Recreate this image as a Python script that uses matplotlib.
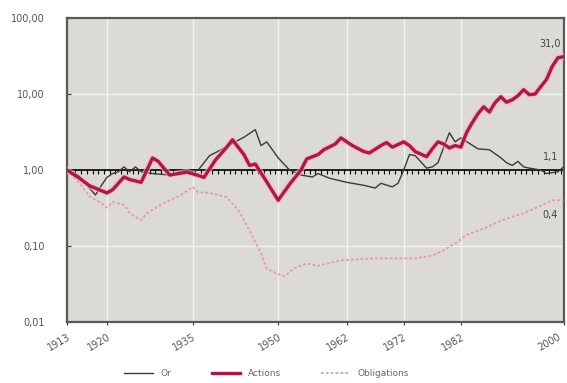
import numpy as np
import matplotlib
matplotlib.use("Agg")
from matplotlib import pyplot as plt
from matplotlib import transforms
from matplotlib.ticker import FixedLocator, NullLocator

# indices base 1 en 1913
or_years = [1913, 1915, 1918, 1919, 1920, 1921, 1922, 1923, 1924, 1925,
            1926, 1928, 1931, 1934, 1936, 1938, 1940, 1942, 1944, 1946,
            1947, 1948, 1950, 1952, 1954, 1956, 1957, 1959, 1962, 1965,
            1967, 1968, 1970, 1971, 1972, 1973, 1974, 1976, 1977, 1978,
            1979, 1980, 1981, 1982, 1985, 1987, 1989, 1990, 1991, 1992,
            1993, 1994, 1996, 1997, 1999, 2000]
or_vals = [1.0, 0.85, 0.47, 0.62, 0.8, 0.9, 0.95, 1.1, 0.95, 1.1,
           0.95, 0.9, 0.86, 0.94, 1.0, 1.55, 1.85, 2.25, 2.7, 3.4,
           2.1, 2.35, 1.45, 1.0, 0.86, 0.81, 0.9, 0.78, 0.69, 0.63,
           0.58, 0.67, 0.6, 0.67, 1.0, 1.6, 1.55, 1.06, 1.1, 1.25,
           2.0, 3.1, 2.35, 2.65, 1.9, 1.85, 1.45, 1.25, 1.15, 1.3,
           1.1, 1.06, 1.0, 0.9, 0.95, 1.1]

act_years = [1913, 1915, 1917, 1920, 1921, 1923, 1924, 1926, 1928, 1929,
             1931, 1934, 1936, 1937, 1939, 1941, 1942, 1944, 1945, 1946,
             1948, 1950, 1952, 1954, 1955, 1957, 1958, 1960, 1961, 1963,
             1965, 1966, 1968, 1969, 1970, 1972, 1973, 1974, 1976, 1977,
             1978, 1979, 1980, 1981, 1982, 1983, 1984, 1985, 1986, 1987,
             1988, 1989, 1990, 1991, 1992, 1993, 1994, 1995, 1996, 1997,
             1998, 1999, 2000]
act_vals = [1.0, 0.8, 0.62, 0.5, 0.55, 0.81, 0.75, 0.69, 1.44, 1.3,
            0.86, 0.94, 0.85, 0.8, 1.35, 2.0, 2.5, 1.6, 1.15, 1.2,
            0.7, 0.40, 0.65, 1.0, 1.4, 1.6, 1.85, 2.2, 2.65, 2.1,
            1.75, 1.68, 2.1, 2.3, 2.0, 2.35, 2.1, 1.75, 1.5, 1.9,
            2.35, 2.2, 1.95, 2.1, 2.0, 3.1, 4.2, 5.5, 6.8, 5.8,
            7.7, 9.2, 7.8, 8.4, 9.5, 11.4, 9.8, 10.0, 12.5, 15.5,
            23.0, 30.0, 31.0]

obl_years = [1913, 1915, 1917, 1919, 1920, 1921, 1923, 1924, 1926, 1927,
             1930, 1933, 1935, 1936, 1938, 1941, 1943, 1945, 1947, 1948,
             1950, 1951, 1953, 1955, 1957, 1961, 1967, 1974, 1977, 1979,
             1981, 1983, 1986, 1988, 1990, 1993, 1996, 1998, 2000]
obl_vals = [1.0, 0.7, 0.45, 0.37, 0.32, 0.38, 0.35, 0.27, 0.22, 0.27,
            0.37, 0.47, 0.6, 0.51, 0.5, 0.44, 0.3, 0.16, 0.08, 0.05,
            0.043, 0.04, 0.052, 0.059, 0.055, 0.065, 0.069, 0.069, 0.075, 0.088,
            0.108, 0.14, 0.17, 0.2, 0.23, 0.27, 0.34, 0.4, 0.4]

x_ticks = [1913, 1920, 1935, 1950, 1962, 1972, 1982, 2000]
y_ticks = [0.01, 0.1, 1, 10, 100]
y_labels = ["0,01", "0,10", "1,00", "10,00", "100,00"]

fig = plt.figure(figsize=(5.67, 3.83), dpi=100)
ax = fig.add_axes([0.118, 0.159, 0.876, 0.794])
ax.set_facecolor("#dcdad5")

ax.set_yscale("log")
ax.set_xlim(1913, 2000)
ax.set_ylim(0.01, 100)

# grille blanche
for x in x_ticks[1:-1]:
    ax.axvline(x, color="#f4f3f0", lw=1.0, zorder=1)
for y in [0.1, 10]:
    ax.axhline(y, color="#f4f3f0", lw=1.0, zorder=1)

# ligne de base 1,00 avec petites graduations vers le bas
base_x = np.arange(1913.5, 2000, 1.0)
ax.axhline(1, color="black", lw=1.2, zorder=2)
ax.plot(base_x, np.ones(len(base_x)), ls="none", marker="|", ms=3.5,
        mew=0.8, color="black", zorder=2,
        transform=ax.transData + transforms.ScaledTranslation(
            0, -1.6 / 72, fig.dpi_scale_trans))

ax.plot(obl_years, obl_vals, color="#e49aae", lw=1.3, ls=(0, (1.5, 1.2)),
        label="Obligations", zorder=3)
ax.plot(or_years, or_vals, color="#3a3a38", lw=1.0, label="Or", zorder=4)
ax.plot(act_years, act_vals, color="#f2b5c6", lw=4.5, alpha=0.6, zorder=4)
ax.plot(act_years, act_vals, color="#b3154a", lw=2.4, label="Actions", zorder=5)

ax.text(act_years[-1] - 0.5, act_vals[-1] * 1.25, "31,0", fontsize=7,
        color="#444444", ha="right", va="bottom")
ax.text(or_years[-1] - 1, or_vals[-1] * 1.15, "1,1", fontsize=7,
        color="#444444", ha="right", va="bottom")
ax.text(obl_years[-1] - 1, obl_vals[-1] * 0.75, "0,4", fontsize=7,
        color="#444444", ha="right", va="top")

ax.yaxis.set_major_locator(FixedLocator(y_ticks))
ax.yaxis.set_minor_locator(NullLocator())
ax.set_yticklabels(y_labels)
ax.set_xticks(x_ticks)
ax.set_xticklabels([str(x) for x in x_ticks], rotation=30, ha="right",
                   rotation_mode="anchor")
ax.tick_params(axis="y", direction="in", length=3, labelsize=7,
               labelcolor="#555555", color="#333333", pad=16)
ax.tick_params(axis="x", direction="out", length=2, labelsize=7,
               labelcolor="#555555", color="#333333", pad=5)

# décale légèrement le dernier libellé pour qu'il reste dans l'image
last = ax.get_xticklabels()[-1]
last.set_transform(last.get_transform() + transforms.ScaledTranslation(
    -4 / 72, 0, fig.dpi_scale_trans))

for s in ax.spines.values():
    s.set_color("#5a5a55")
    s.set_linewidth(1.6)

handles, labels = ax.get_legend_handles_labels()
order = [labels.index(n) for n in ["Or", "Actions", "Obligations"]]
fig.legend([handles[i] for i in order], [labels[i] for i in order],
           loc="center", bbox_to_anchor=(0.47, 0.025), ncol=3, frameon=False,
           fontsize=6.5, labelcolor="#666666", handlelength=3.2,
           columnspacing=4.5)

fig.savefig("out.png", dpi=100)
